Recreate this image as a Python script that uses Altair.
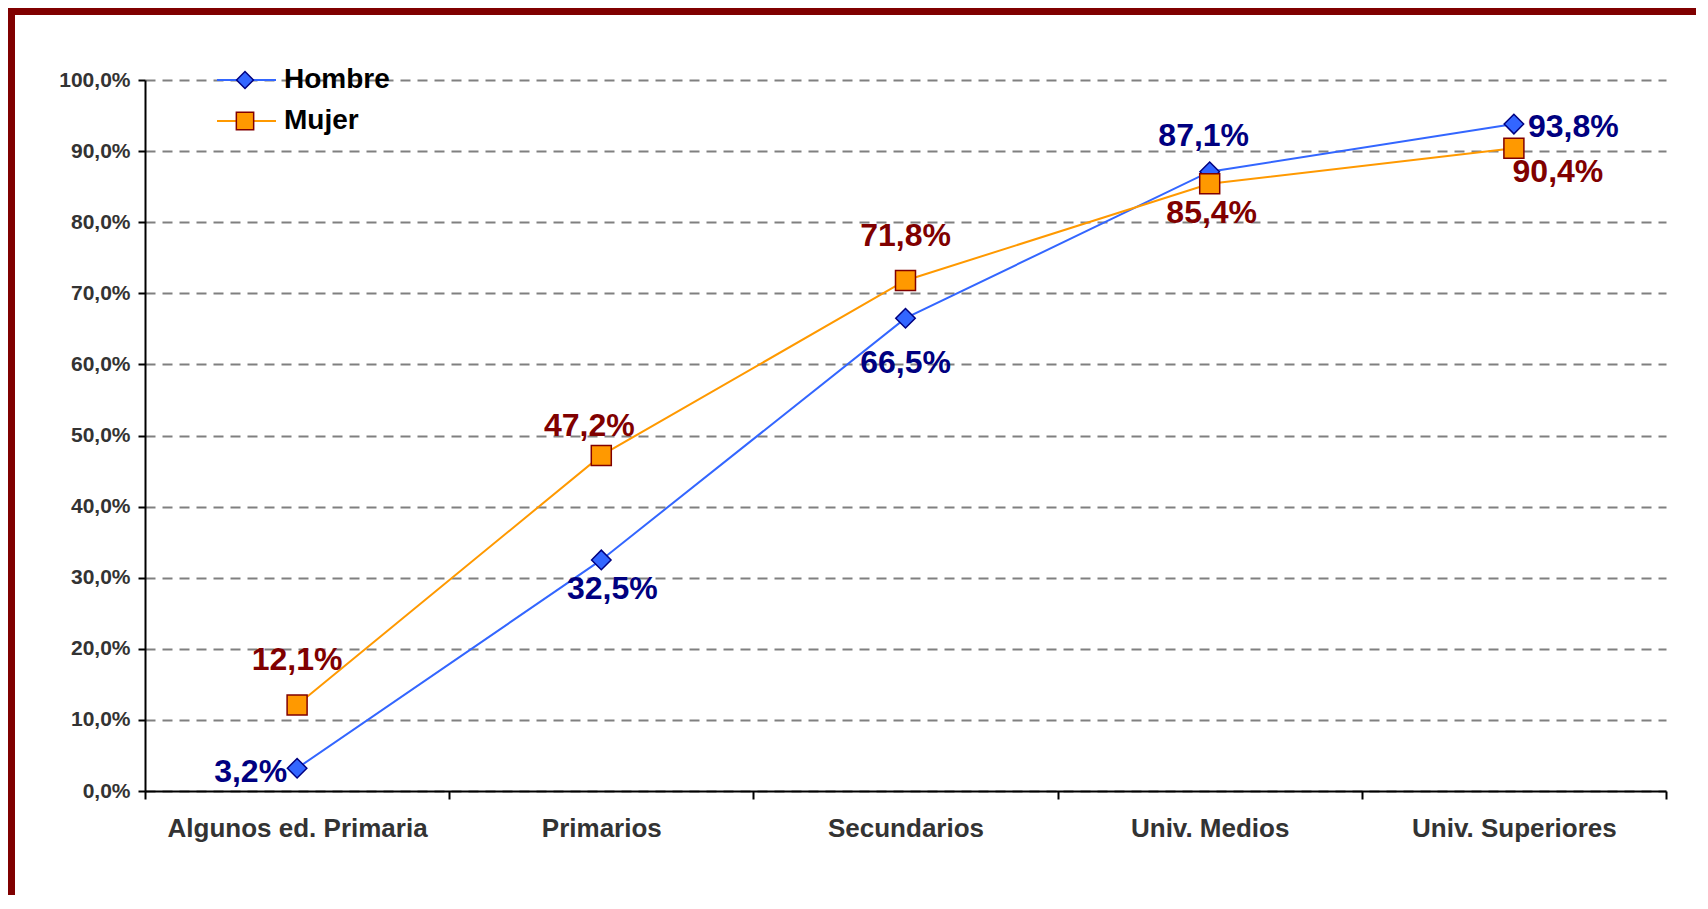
import altair as alt
import pandas as pd

# ---------------- data ----------------
categories = ["Algunos ed. Primaria", "Primarios", "Secundarios", "Univ. Medios", "Univ. Superiores"]
series = ["Hombre", "Mujer"]
hombre = [3.2, 32.5, 66.5, 87.1, 93.8]
mujer = [12.1, 47.2, 71.8, 85.4, 90.4]
y_ticks = [0, 10, 20, 30, 40, 50, 60, 70, 80, 90, 100]

rows = []
for s, vals in zip(series, [hombre, mujer]):
    for c, v in zip(categories, vals):
        rows.append({"cat": c, "series": s, "value": v,
                     "label": f"{v:.1f}".replace(".", ",") + "%"})
df = pd.DataFrame(rows)
one = pd.DataFrame({"k": [0]})

# ---------------- style ----------------
W, H = 1521, 711
PAD_L, PAD_T, PAD_R, PAD_B = 137, 72, 30, 104
FONT = "Liberation Sans"
styles = {
    "Hombre": dict(line="#3366FF", fill="#3366FF", stroke="#000080", shape="diamond", size=380, text="#000080"),
    "Mujer": dict(line="#FF9900", fill="#FF9900", stroke="#800000", shape="square", size=400, text="#800000"),
}
# label placement per point: (align, dx, dy)
placements = {
    "Hombre": [("right", -10, 4), ("center", 11, 29), ("center", 0, 45), ("center", -6, -36), ("left", 14, 3)],
    "Mujer": [("center", 0, -45), ("center", -12, -29), ("center", 0, -45), ("center", 2, 29), ("center", 44, 24)],
}

x_enc = alt.X(
    "cat:N", sort=categories, title=None,
    scale=alt.Scale(type="band", domain=categories, paddingInner=0, paddingOuter=0),
    axis=alt.Axis(tickBand="extent", labelAngle=0, labelFont=FONT, labelFontSize=26,
                  labelFontWeight="bold", labelColor="#333333", labelPadding=16, labelLimit=0,
                  domainColor="black", domainWidth=2, tickColor="black", tickWidth=2,
                  tickSize=8, grid=False),
)
y_enc = alt.Y(
    "value:Q", title=None,
    scale=alt.Scale(domain=[0, 100], nice=False, zero=True),
    axis=alt.Axis(values=y_ticks,
                  labelExpr="replace(format(datum.value, '.1f'), '.', ',') + '%'",
                  labelFont=FONT, labelFontSize=21, labelFontWeight="bold",
                  labelColor="#333333", labelPadding=8, labelLimit=0,
                  domainColor="black", domainWidth=2, tickColor="black", tickWidth=2,
                  tickSize=7, grid=True, gridColor="#808080", gridWidth=2,
                  gridDash=[10, 7]),
)

base = alt.Chart(df)

# frame: only the top and left edges are visible in the picture
border_top = alt.Chart(one).mark_rule(color="#800000", strokeWidth=7).encode(
    x=alt.value(-PAD_L), x2=alt.value(W + PAD_R + 10), y=alt.value(-PAD_T + 3.5)
)
border_left = alt.Chart(one).mark_rule(color="#800000", strokeWidth=7).encode(
    x=alt.value(-PAD_L + 3.5), y=alt.value(-PAD_T), y2=alt.value(H + PAD_B + 10)
)

layers = [border_top, border_left]
for s in series:
    st = styles[s]
    sub = base.transform_filter(alt.datum.series == s)
    layers.append(sub.mark_line(color=st["line"], strokeWidth=2).encode(x=x_enc, y=y_enc))
    layers.append(sub.mark_point(shape=st["shape"], filled=True, fill=st["fill"], stroke=st["stroke"],
                                 strokeWidth=1.5, size=st["size"], opacity=1).encode(x=x_enc, y=y_enc))

for s in series:
    st = styles[s]
    for c, (al, dx, dy) in zip(categories, placements[s]):
        layers.append(
            base.transform_filter((alt.datum.series == s) & (alt.datum.cat == c))
            .mark_text(align=al, baseline="middle", dx=dx, dy=dy, font=FONT, fontSize=32,
                       fontWeight="bold", color=st["text"])
            .encode(x=x_enc, y=y_enc, text="label:N")
        )

# legend (manual)
for i, s in enumerate(series):
    st = styles[s]
    ly = 41 * i
    layers.append(alt.Chart(one).mark_rule(color=st["line"], strokeWidth=2).encode(
        x=alt.value(72), x2=alt.value(131), y=alt.value(ly)))
    layers.append(alt.Chart(one).mark_point(shape=st["shape"], filled=True, fill=st["fill"],
                                            stroke=st["stroke"], strokeWidth=1.5,
                                            size=st["size"] * 0.75, opacity=1).encode(
        x=alt.value(100), y=alt.value(ly)))
    layers.append(alt.Chart(one).mark_text(align="left", baseline="middle", font=FONT, fontSize=28,
                                           fontWeight="bold", color="black").encode(
        x=alt.value(139), y=alt.value(ly), text=alt.value(s)))

chart = alt.layer(*layers).properties(
    width=W, height=H,
    autosize=alt.AutoSizeParams(type="none"),
    padding={"left": PAD_L, "top": PAD_T, "right": PAD_R, "bottom": PAD_B},
    background="white",
).configure_view(stroke=None)

chart.save("out.html", embed_options={"renderer": "svg", "actions": False})
